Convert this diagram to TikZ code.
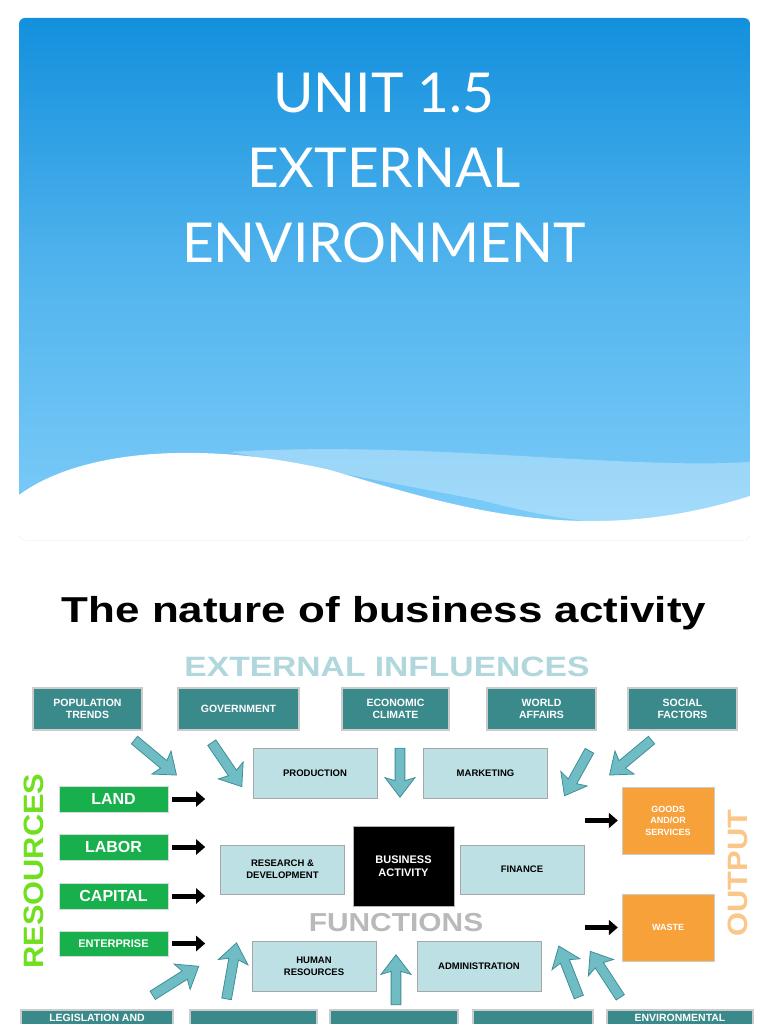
\documentclass[tikz,border=0pt]{standalone}
\usepackage{fontspec}
\setmainfont{Liberation Sans}
\newfontfamily\titlefont{Lato}
\usetikzlibrary{shapes.arrows,calc,arrows.meta,positioning}
\definecolor{skytop}{HTML}{1390DD}
\definecolor{skybot}{HTML}{7ECDF9}
\definecolor{darkteal}{HTML}{3A8A8C}
\definecolor{paleteal}{HTML}{BDE0E4}
\definecolor{arrowteal}{HTML}{6FBCC4}
\definecolor{edgeteal}{HTML}{3F8F97}
\definecolor{resgreen}{HTML}{17B04C}
\definecolor{outorange}{HTML}{F7A13A}
\tikzset{
  influence/.style={draw=gray!40,line width=1.2pt,fill=darkteal,text=white,font=\bfseries\fontsize{10.5}{12}\selectfont,align=center,inner sep=0pt},
  function/.style={draw=gray!70,line width=1pt,fill=paleteal,font=\bfseries\fontsize{9.5}{12}\selectfont,align=center,inner sep=0pt,minimum width=124pt,minimum height=50pt},
  resource/.style={draw=gray!30,fill=resgreen,text=white,font=\bfseries\fontsize{16}{17}\selectfont,inner sep=0pt,minimum width=109pt,minimum height=26pt},
  output/.style={draw=gray!40,fill=outorange,text=white,font=\bfseries\fontsize{9}{11.5}\selectfont,align=center,inner sep=0pt,minimum width=92pt,minimum height=67pt},
  teal arrow/.style={single arrow,draw=edgeteal,fill=arrowteal,line width=0.8pt,minimum width=30pt,single arrow head extend=6pt,single arrow head indent=3pt,inner sep=2.5pt,single arrow tip angle=75},
  input arrow/.style={line width=5pt,-{Triangle[length=9pt,width=15pt]}},
}
\newcommand\tealarrow[2]{\path let \p1=($(#2)-(#1)$), \n1={atan2(\y1,\x1)}, \n2={veclen(\x1,\y1)} in node[teal arrow,rotate=\n1,minimum height=\n2] at ($(#1)!0.5!(#2)$) {};}
\begin{document}
\begin{tikzpicture}[x=1pt,y=-1pt]
\useasboundingbox (0,0) rectangle (768,1024);
\clip (0,0) rectangle (768,1024);
% title panel
\begin{scope}
  \clip[rounded corners=6pt] (19,18) rectangle (750,540);
  \shade[top color=skytop,bottom color=skybot,middle color=skybot!60!skytop] (19,18) rectangle (750,540);
  \fill[white,opacity=0.3] (230,452) .. controls (420,440) and (620,470) .. (750,462) -- (750,498) .. controls (640,540) and (560,520) .. (480,500) -- cycle;
  \fill[white] (19,495) .. controls (80,450) and (200,440) .. (330,470) .. controls (450,505) and (580,550) .. (750,496) -- (750,540) -- (19,540) -- cycle;
\end{scope}
\node[text=white,font=\titlefont\fontsize{55}{75}\selectfont,align=center] (title) at (384,168) {UNIT 1.5\\EXTERNAL\\ENVIRONMENT};
\node[font=\bfseries\fontsize{36}{38}\selectfont,xscale=1.22] (heading) at (384,613) {The nature of business activity};
\node[text=paleteal!90!darkteal,font=\bfseries\fontsize{28}{29}\selectfont,xscale=1.2] (extinf) at (387,667) {EXTERNAL INFLUENCES};
% external influences
\node[influence,minimum width=109pt,minimum height=42pt] (pop) at (87.5,709) {POPULATION\\TRENDS};
\node[influence,minimum width=121pt,minimum height=42pt] (gov) at (238.5,709) {GOVERNMENT};
\node[influence,minimum width=107pt,minimum height=42pt] (eco) at (395.5,709) {ECONOMIC\\CLIMATE};
\node[influence,minimum width=109pt,minimum height=42pt] (world) at (541.5,709) {WORLD\\AFFAIRS};
\node[influence,minimum width=109pt,minimum height=42pt] (social) at (682.5,709) {SOCIAL\\FACTORS};
\node[influence,minimum width=152pt,minimum height=40pt] (legis) at (97,1030) {};
\node[influence,minimum width=127pt,minimum height=40pt] (tech) at (253.5,1030) {};
\node[influence,minimum width=128pt,minimum height=40pt] (comp) at (394,1030) {};
\node[influence,minimum width=120pt,minimum height=40pt] (cons) at (533,1030) {};
\node[influence,minimum width=146pt,minimum height=40pt] (env) at (680,1030) {};
\node[text=white,font=\bfseries\fontsize{10.5}{12}\selectfont,anchor=north,inner sep=0pt] (legis-t) at (97,1014) {LEGISLATION AND};
\node[text=white,font=\bfseries\fontsize{10.5}{12}\selectfont,anchor=north,inner sep=0pt] (env-t) at (680,1014) {ENVIRONMENTAL};
% functions
\node[function] (prod) at (315,773) {PRODUCTION};
\node[function] (mkt) at (485.5,773) {MARKETING};
\node[function,minimum height=49pt] (rnd) at (282.5,869.5) {RESEARCH \&\\DEVELOPMENT};
\node[draw=gray!60,line width=1pt,fill=black,text=white,font=\bfseries\fontsize{11}{13}\selectfont,align=center,minimum width=101pt,minimum height=80pt,inner sep=0pt] (biz) at (403.5,866) {BUSINESS\\ACTIVITY};
\node[function,minimum height=49pt] (fin) at (522,869.5) {FINANCE};
\node[function] (hr) at (314,966) {HUMAN\\RESOURCES};
\node[function] (admin) at (479,966) {ADMINISTRATION};
\node[text=gray!55,font=\bfseries\fontsize{26}{27}\selectfont,xscale=1.15] (funcs) at (396,923) {FUNCTIONS};
% resources and outputs
\node[resource] (land) at (113.5,799) {LAND};
\node[resource] (labor) at (113.5,847) {LABOR};
\node[resource] (capital) at (113.5,896) {CAPITAL};
\node[resource,font=\bfseries\fontsize{11}{12}\selectfont,minimum height=25pt] (enter) at (113.5,943.5) {ENTERPRISE};
\node[rotate=90,text=resgreen!50!yellow!80!green,font=\bfseries\fontsize{28}{29}\selectfont,xscale=1.1] (res) at (34,871) {RESOURCES};
\node[output] (goods) at (668,820.5) {GOODS\\AND/OR\\SERVICES};
\node[output] (waste) at (668,927.5) {WASTE};
\node[rotate=90,text=outorange!60,font=\bfseries\fontsize{28}{29}\selectfont,xscale=1.1] (out) at (738,873) {OUTPUT};
% black arrows
\foreach \r in {land,labor,capital,enter}
  {\draw[input arrow] (\r.east) ++(4,0) coordinate (\r-a) -- ++(33,0) coordinate (\r-b);}
\foreach \o in {goods,waste}
  {\draw[input arrow] (\o.west) ++(-37,0) coordinate (\o-a) -- ++(33,0) coordinate (\o-b);}
% teal arrows
\coordinate (p1) at (132,738); \coordinate (p2) at (174,773);
\coordinate (g1) at (210,740); \coordinate (g2) at (240,784);
\coordinate (e1) at (400,745); \coordinate (e2) at (400,794);
\coordinate (w1) at (591,748); \coordinate (w2) at (566,793);
\coordinate (s1) at (654,738); \coordinate (s2) at (612,773);
\coordinate (l1) at (150,997); \coordinate (l2) at (196,968);
\coordinate (t1) at (226,1002); \coordinate (t2) at (236,946);
\coordinate (c1) at (396,1008); \coordinate (c2) at (396,958);
\coordinate (n1) at (580,1000); \coordinate (n2) at (560,949);
\coordinate (v1) at (622,1000); \coordinate (v2) at (592,954);
\foreach \a/\b in {p1/p2,g1/g2,e1/e2,w1/w2,s1/s2,l1/l2,t1/t2,c1/c2,n1/n2,v1/v2}
  {\tealarrow{\a}{\b}}
\end{tikzpicture}
\end{document}
